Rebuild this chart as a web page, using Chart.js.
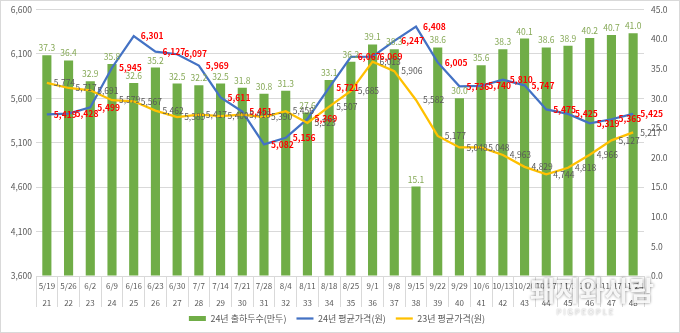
<!DOCTYPE html>
<html>
<head>
<meta charset="utf-8">
<script src="https://cdn.jsdelivr.net/npm/chart.js@4.4.1/dist/chart.umd.min.js"></script>
<style>
  body { margin: 0; background: #fff; }
</style>
</head>
<body>
<canvas id="priceChart" width="680" height="333"></canvas>
<script>
'use strict';

let dates = ['5/19', '5/26', '6/2', '6/9', '6/16', '6/23', '6/30', '7/7', '7/14', '7/21', '7/28', '8/4', '8/11', '8/18',
  '8/25', '9/1', '9/8', '9/15', '9/22', '9/29', '10/6', '10/13', '10/20', '10/27', '11/3', '11/10', '11/17', '11/24'];
let weekNums = [21, 22, 23, 24, 25, 26, 27, 28, 29, 30, 31, 32, 33, 34,
  35, 36, 37, 38, 39, 40, 41, 42, 43, 44, 45, 46, 47, 48];

// 24년 출하두수 (만두)
let shipments24 = [37.3, 36.4, 32.9, 35.8, 32.6, 35.2, 32.5, 32.2, 32.5, 31.8, 30.8, 31.3, 27.6, 33.1,
  36.2, 39.1, 38.3, 15.1, 38.6, 30.0, 35.6, 38.3, 40.1, 38.6, 38.9, 40.2, 40.7, 41.0];
// 24년 평균가격 (원)
let price24 = [5419, 5428, 5499, 5945, 6301, 6127, 6097, 5969, 5611, 5451, 5082, 5156, 5369, 5721,
  6067, 6069, 6247, 6408, 6005, 5736, 5740, 5810, 5747, 5475, 5425, 5319, 5365, 5425];
// 23년 평균가격 (원)
let price23 = [5774, 5717, 5691, 5579, 5567, 5462, 5389, 5417, 5400, 5418, 5390, 5456, 5323, 5507,
  5685, 6013, 5906, 5582, 5177, 5048, 5048, 4963, 4829, 4744, 4818, 4966, 5127, 5217];

let priceTicks = [3600, 4100, 4600, 5100, 5600, 6100, 6600];
let headTicks = [0, 5, 10, 15, 20, 25, 30, 35, 40, 45];

let fontFamily = "'Noto Sans CJK KR', 'Noto Sans', sans-serif";
let textGray = '#595959';
let gridGray = '#d9d9d9';

let ctx = document.getElementById('priceChart').getContext('2d');

function withComma(v) {
  return Number(v).toLocaleString('en-US');
}

// value labels: above the bars, to the right of each line point
let valueLabels = {
  id: 'valueLabels',
  afterDatasetsDraw: function (chart) {
    let c = chart.ctx;
    chart.data.datasets.forEach(function (ds, i) {
      let meta = chart.getDatasetMeta(i);
      c.save();
      c.font = ds.labelFont;
      c.fillStyle = ds.labelColor;
      meta.data.forEach(function (el, j) {
        let text = ds.labelFormat(ds.data[j]);
        if (meta.type === 'bar') {
          c.textAlign = 'center';
          c.textBaseline = 'bottom';
          c.fillText(text, el.x, el.y - 3);
        } else {
          c.textAlign = 'left';
          c.textBaseline = 'middle';
          c.fillText(text, el.x + 7, el.y);
        }
      });
      c.restore();
    });
  }
};

// outer frame and the site mark in the corner
let frame = {
  id: 'frame',
  afterDraw: function (chart) {
    let c = chart.ctx;
    c.save();
    c.strokeStyle = gridGray;
    c.lineWidth = 1;
    c.strokeRect(0.5, 0.5, chart.width - 1, chart.height - 1);

    c.globalAlpha = 0.9;
    c.shadowColor = 'rgba(0,0,0,0.55)';
    c.shadowBlur = 3;
    c.fillStyle = '#ffffff';
    c.textAlign = 'center';
    c.textBaseline = 'middle';
    c.font = 'bold 27px ' + fontFamily;
    c.fillText('돼지와사람', 592, 291);
    c.shadowBlur = 1.5;
    c.font = '8px ' + fontFamily;
    c.fillText('P I G P E O P L E', 585, 312);
    c.restore();
  }
};

new Chart(ctx, {
  type: 'bar',
  data: {
    labels: dates.map(function (d, i) { return [d, String(weekNums[i])]; }),
    datasets: [{
      type: 'bar',
      label: '24년 출하두수(만두)',
      data: shipments24,
      yAxisID: 'yHead',
      backgroundColor: '#70ad47',
      borderWidth: 0,
      barPercentage: 0.42,
      categoryPercentage: 1,
      pointStyle: 'rect',
      order: 3,
      labelFont: '8.5px ' + fontFamily,
      labelColor: '#86a957',
      labelFormat: function (v) { return v.toFixed(1); }
    }, {
      type: 'line',
      label: '24년 평균가격(원)',
      data: price24,
      yAxisID: 'yPrice',
      borderColor: '#4472c4',
      backgroundColor: '#4472c4',
      borderWidth: 2.25,
      pointRadius: 0,
      pointStyle: 'line',
      tension: 0,
      order: 2,
      labelFont: 'bold 8.5px ' + fontFamily,
      labelColor: '#ff0000',
      labelFormat: withComma
    }, {
      type: 'line',
      label: '23년 평균가격(원)',
      data: price23,
      yAxisID: 'yPrice',
      borderColor: '#ffc000',
      backgroundColor: '#ffc000',
      borderWidth: 2.25,
      pointRadius: 0,
      pointStyle: 'line',
      tension: 0,
      order: 1,
      labelFont: '8.5px ' + fontFamily,
      labelColor: textGray,
      labelFormat: withComma
    }]
  },
  options: {
    responsive: false,
    animation: false,
    devicePixelRatio: 1,
    layout: { padding: { top: 0, right: 0, left: 0, bottom: 0 } },
    font: { family: fontFamily },
    scales: {
      x: {
        afterFit: function (s) { s.height = 34; },
        grid: { offset: true, drawOnChartArea: false, drawTicks: true, tickLength: 31, color: gridGray },
        border: { color: gridGray },
        ticks: {
          padding: -29,
          color: textGray,
          autoSkip: false,
          maxRotation: 0,
          font: { family: fontFamily, size: 8, lineHeight: 2.1 }
        }
      },
      yPrice: {
        position: 'left',
        min: priceTicks[0],
        max: priceTicks[priceTicks.length - 1],
        afterBuildTicks: function (s) { s.ticks = priceTicks.map(function (v) { return { value: v }; }); },
        afterFit: function (s) { s.width = 36; },
        grid: { color: gridGray, drawTicks: false },
        border: { display: false },
        ticks: {
          padding: 4,
          color: textGray,
          font: { family: fontFamily, size: 8.5, lineHeight: 0.6 },
          callback: withComma
        }
      },
      yHead: {
        position: 'right',
        min: headTicks[0],
        max: headTicks[headTicks.length - 1],
        afterBuildTicks: function (s) { s.ticks = headTicks.map(function (v) { return { value: v }; }); },
        afterFit: function (s) { s.width = 36; },
        grid: { drawOnChartArea: false, drawTicks: false },
        border: { display: false },
        ticks: {
          padding: 7,
          color: textGray,
          font: { family: fontFamily, size: 8.5, lineHeight: 0.6 },
          callback: function (v) { return Number(v).toFixed(1); }
        }
      }
    },
    plugins: {
      tooltip: { enabled: false },
      legend: {
        position: 'bottom',
        maxHeight: 23,
        labels: {
          usePointStyle: true,
          pointStyleWidth: 17,
          boxHeight: 5,
          padding: 4,
          color: textGray,
          font: { family: fontFamily, size: 9 },
          sort: function (a, b) { return a.datasetIndex - b.datasetIndex; },
          generateLabels: function (chart) {
            // extra trailing room so the items sit apart like in a spreadsheet legend
            let items = Chart.defaults.plugins.legend.labels.generateLabels(chart);
            items.forEach(function (item) { item.text = item.text + '   '; });
            return items;
          }
        }
      }
    }
  },
  plugins: [valueLabels, frame]
});
</script>
</body>
</html>
